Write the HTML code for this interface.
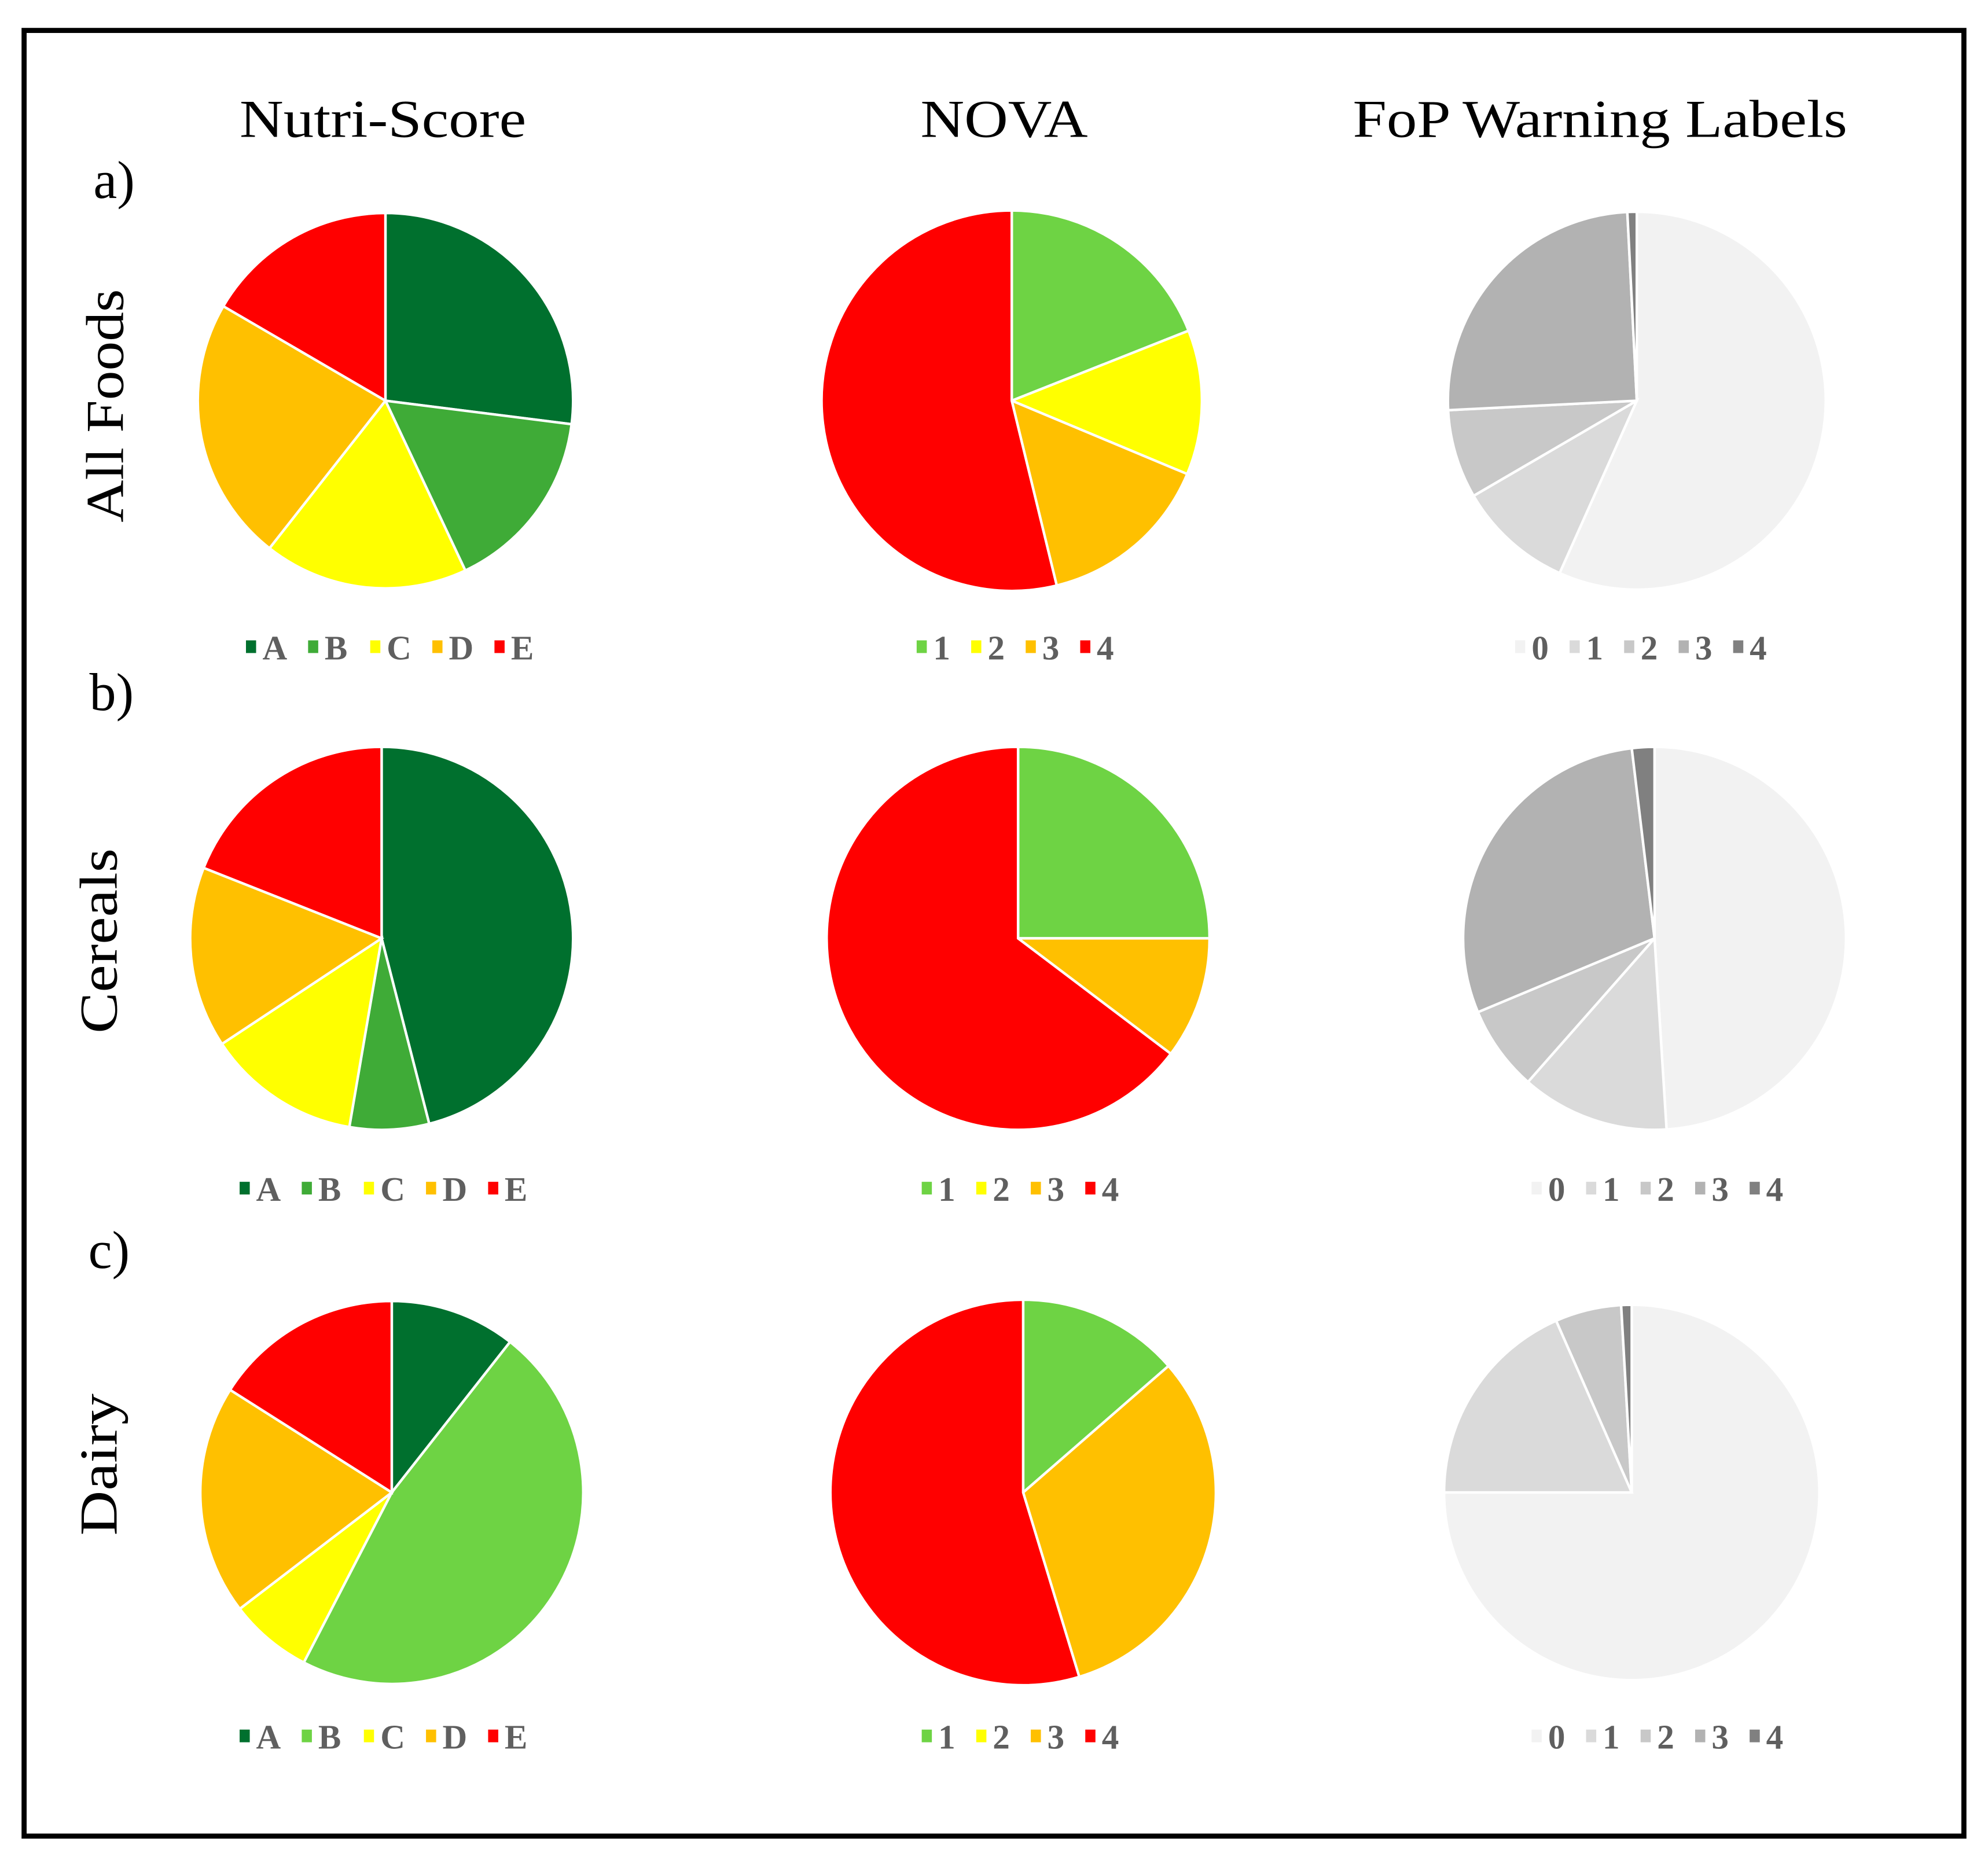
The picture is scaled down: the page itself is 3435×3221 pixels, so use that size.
<!DOCTYPE html>
<html><head><meta charset="utf-8"><style>
html,body{margin:0;padding:0;background:#fff;}
svg{display:block;}
</style></head><body>
<svg id="fig" width="3435" height="3221" viewBox="0 0 1568 1470" preserveAspectRatio="none" xmlns="http://www.w3.org/2000/svg">
<rect x="19" y="24" width="1530" height="1424" fill="#fff" stroke="#000" stroke-width="4"/>
<g font-family="'Liberation Serif', serif" font-size="42" fill="#000" text-anchor="middle">
<text x="302" y="108" textLength="226" lengthAdjust="spacingAndGlyphs">Nutri-Score</text>
<text x="792" y="108" textLength="132" lengthAdjust="spacingAndGlyphs">NOVA</text>
<text x="1262" y="108" textLength="390" lengthAdjust="spacingAndGlyphs">FoP Warning Labels</text>
<text x="90" y="156">a)</text>
<text x="88" y="560">b)</text>
<text x="86" y="1000">c)</text>
<text transform="translate(97,320) rotate(-90)" textLength="184" lengthAdjust="spacingAndGlyphs">All Foods</text>
<text transform="translate(92,742) rotate(-90)" textLength="146" lengthAdjust="spacingAndGlyphs">Cereals</text>
<text transform="translate(92,1155) rotate(-90)" textLength="112" lengthAdjust="spacingAndGlyphs">Dairy</text>
</g>
<g id="pies"></g>
</svg>
<script>
const nutriCats = ["A","B","C","D","E"];
const novaCats = ["1","2","3","4"];
const fopCats = ["0","1","2","3","4"];
const nutriAll = [27, 16, 17.6, 22.8, 16.6];
const novaAll = [19, 12.3, 14.9, 53.8];
const fopAll = [56.7, 9.9, 7.6, 25, 0.8];
const nutriCereals = [46, 6.7, 13, 15.3, 19];
const novaCereals = [25, 0, 10.3, 64.7];
const fopCereals = [49, 12.5, 7.2, 29.4, 1.9];
const nutriDairy = [10.6, 47, 7, 19.4, 16];
const novaDairy = [13.6, 0, 31.7, 54.7];
const fopDairy = [75, 18.4, 5.7, 0, 0.9];

const nutriColors = ["#00702e","#3fab37","#ffff00","#ffc000","#ff0000"];
const nutriColorsDairy = ["#00702e","#6ed344","#ffff00","#ffc000","#ff0000"];
const novaColors = ["#6ed344","#ffff00","#ffc000","#ff0000"];
const fopColors = ["#f2f2f2","#dadada","#c8c8c8","#b2b2b2","#808080"];

const NS="http://www.w3.org/2000/svg";
const root=document.getElementById('pies');
function pie(name,vals,cats,colors,cx,cy,r,ly,lx0,spacing){
  const g=document.createElementNS(NS,'g');
  
  
  root.appendChild(g);
  const tot=vals.reduce((a,b)=>a+b,0);
  let a0=0;
  vals.forEach((v,i)=>{
    if(v<=0) return;
    const a1=a0+v/tot*2*Math.PI;
    const x0=cx+r*Math.sin(a0),y0=cy-r*Math.cos(a0);
    const x1=cx+r*Math.sin(a1),y1=cy-r*Math.cos(a1);
    const large=(a1-a0)>Math.PI?1:0;
    const p=document.createElementNS(NS,'path');
    p.setAttribute('d',`M${cx},${cy}L${x0},${y0}A${r},${r} 0 ${large} 1 ${x1},${y1}Z`);
    p.setAttribute('fill',colors[i]);
    p.setAttribute('stroke','#fff');
    p.setAttribute('stroke-width','2');
    
    
    g.appendChild(p);
    a0=a1;
  });
  cats.forEach((c,i)=>{
    const x=lx0+i*spacing;
    const s=document.createElementNS(NS,'rect');
    s.setAttribute('x',x);s.setAttribute('y',ly-15);s.setAttribute('width',8);s.setAttribute('height',10);
    s.setAttribute('fill',colors[i]);
    
    
    g.appendChild(s);
    const t=document.createElementNS(NS,'text');
    t.setAttribute('x',x+13);t.setAttribute('y',ly);
    t.setAttribute('font-family',"'Liberation Serif', serif");
    t.setAttribute('font-size','27');t.setAttribute('font-weight','bold');t.setAttribute('fill','#5f5f5f');
    t.textContent=c;
    
    
    g.appendChild(t);
  });
}
pie('nutri-all-foods',nutriAll,nutriCats,nutriColors,304,316,148,520,194,49);
pie('nova-all-foods',novaAll,novaCats,novaColors,798,316,150,520,723,43);
pie('fop-all-foods',fopAll,fopCats,fopColors,1291,316,149,520,1195,43);
pie('nutri-cereals',nutriCereals,nutriCats,nutriColors,301,740,151,947,189,49);
pie('nova-cereals',novaCereals,novaCats,novaColors,803,740,151,947,727,43);
pie('fop-cereals',fopCereals,fopCats,fopColors,1305,740,151,947,1208,43);
pie('nutri-dairy',nutriDairy,nutriCats,nutriColorsDairy,309,1177,151,1379,189,49);
pie('nova-dairy',novaDairy,novaCats,novaColors,807,1177,152,1379,727,43);
pie('fop-dairy',fopDairy,fopCats,fopColors,1287,1177,148,1379,1208,43);
</script>
</body></html>
